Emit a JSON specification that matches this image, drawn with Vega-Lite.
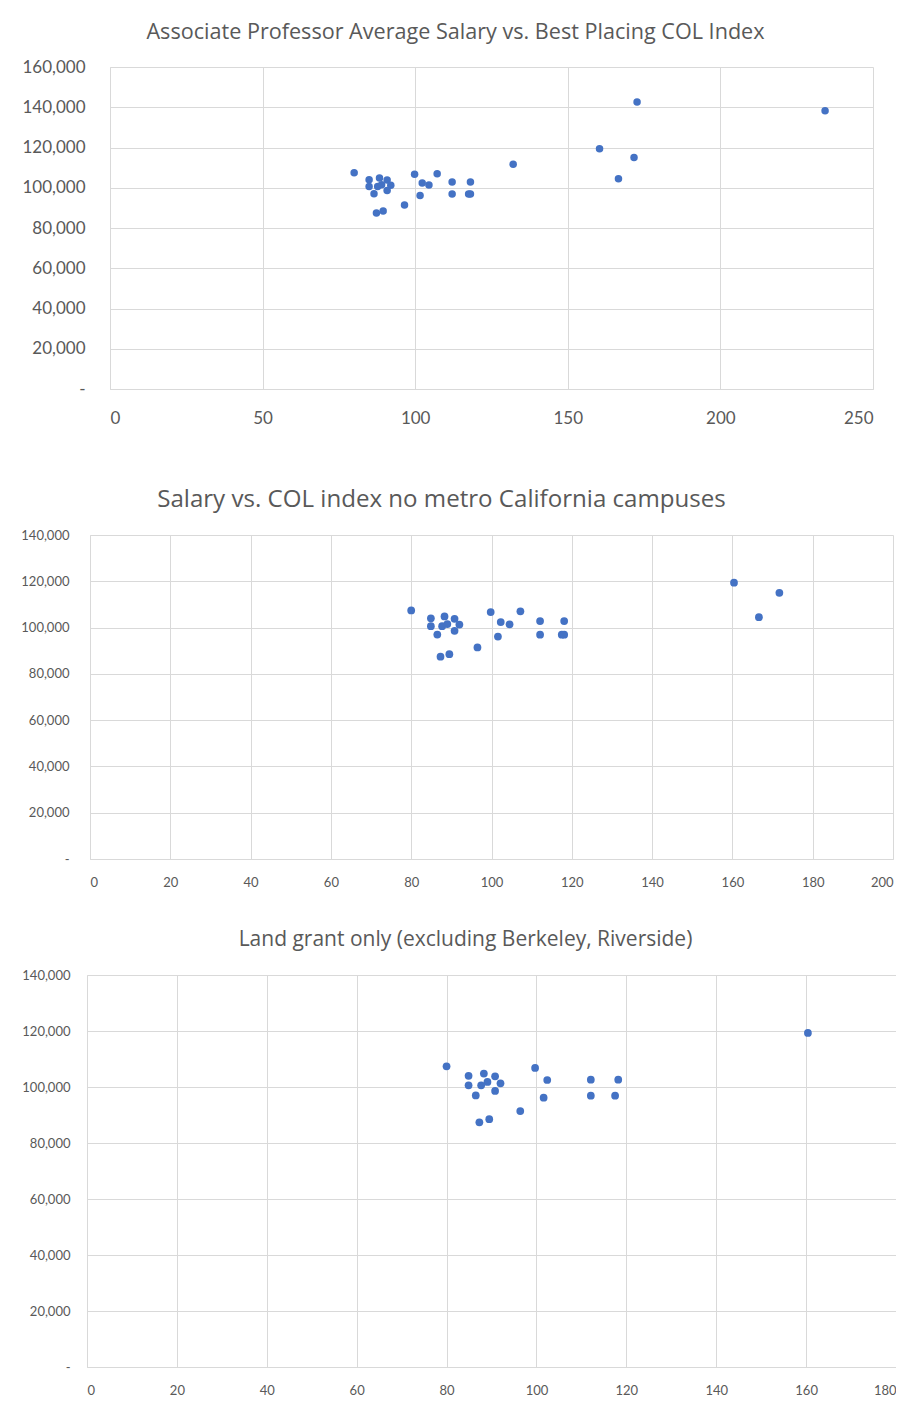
{
  "$schema": "https://vega.github.io/schema/vega-lite/v6.json",
  "background": "white",
  "padding": {"left": 0, "top": 22, "right": 0, "bottom": 0},
  "config": {
    "view": {"stroke": null},
    "font": "Lato",
    "axis": {
      "gridColor": "#d9d9d9",
      "domainColor": "#d9d9d9",
      "ticks": false,
      "labelColor": "#595959",
      "labelFont": "Lato",
      "title": null
    },
    "title": {"font": "Open Sans", "fontWeight": "normal", "color": "#595959", "anchor": "middle"}
  },
  "datasets": {
    "all": [
      {"col": 80.0, "salary": 107400}, {"col": 84.9, "salary": 104000}, {"col": 84.9, "salary": 100600},
      {"col": 88.3, "salary": 104800}, {"col": 90.8, "salary": 103800}, {"col": 87.7, "salary": 100600},
      {"col": 89.0, "salary": 101500}, {"col": 92.0, "salary": 101300}, {"col": 90.8, "salary": 98600},
      {"col": 86.5, "salary": 97000}, {"col": 87.3, "salary": 87400}, {"col": 89.5, "salary": 88500},
      {"col": 96.5, "salary": 91400}, {"col": 99.8, "salary": 106700}, {"col": 102.3, "salary": 102400},
      {"col": 104.5, "salary": 101400}, {"col": 101.6, "salary": 96100}, {"col": 107.2, "salary": 107000},
      {"col": 112.1, "salary": 102800}, {"col": 112.1, "salary": 96900}, {"col": 118.1, "salary": 102800},
      {"col": 117.5, "salary": 96900}, {"col": 118.1, "salary": 96900}, {"col": 132.1, "salary": 111700},
      {"col": 160.4, "salary": 119400}, {"col": 171.7, "salary": 115000}, {"col": 166.6, "salary": 104500},
      {"col": 172.7, "salary": 142600}, {"col": 234.3, "salary": 138300}
    ],
    "nometro": [
      {"col": 80.0, "salary": 107400}, {"col": 84.9, "salary": 104000}, {"col": 84.9, "salary": 100600},
      {"col": 88.3, "salary": 104800}, {"col": 90.8, "salary": 103800}, {"col": 87.7, "salary": 100600},
      {"col": 89.0, "salary": 101500}, {"col": 92.0, "salary": 101300}, {"col": 90.8, "salary": 98600},
      {"col": 86.5, "salary": 97000}, {"col": 87.3, "salary": 87400}, {"col": 89.5, "salary": 88500},
      {"col": 96.5, "salary": 91400}, {"col": 99.8, "salary": 106700}, {"col": 102.3, "salary": 102400},
      {"col": 104.5, "salary": 101400}, {"col": 101.6, "salary": 96100}, {"col": 107.2, "salary": 107000},
      {"col": 112.1, "salary": 102800}, {"col": 112.1, "salary": 96900}, {"col": 118.1, "salary": 102800},
      {"col": 117.5, "salary": 96900}, {"col": 118.1, "salary": 96900},
      {"col": 160.4, "salary": 119400}, {"col": 171.7, "salary": 115000}, {"col": 166.6, "salary": 104500}
    ],
    "landgrant": [
      {"col": 80.0, "salary": 107400}, {"col": 84.9, "salary": 104000}, {"col": 84.9, "salary": 100600},
      {"col": 88.3, "salary": 104800}, {"col": 90.8, "salary": 103800}, {"col": 87.7, "salary": 100600},
      {"col": 89.1, "salary": 101800}, {"col": 92.0, "salary": 101300}, {"col": 90.8, "salary": 98600},
      {"col": 86.5, "salary": 97000}, {"col": 87.3, "salary": 87400}, {"col": 89.5, "salary": 88500},
      {"col": 96.4, "salary": 91400}, {"col": 99.7, "salary": 106800}, {"col": 102.4, "salary": 102500},
      {"col": 101.6, "salary": 96200}, {"col": 112.1, "salary": 102600}, {"col": 112.1, "salary": 96900},
      {"col": 118.2, "salary": 102600}, {"col": 117.5, "salary": 96900},
      {"col": 160.4, "salary": 119300}
    ]
  },
  "spacing": 40,
  "center": true,
  "vconcat": [
    {
      "title": {"text": "Associate Professor Average Salary vs. Best Placing COL Index", "fontSize": 21.6, "offset": 14, "dx": -36},
      "width": 763,
      "height": 322,
      "data": {"name": "all"},
      "mark": {"type": "circle", "size": 56, "color": "#4472C4", "opacity": 1},
      "encoding": {
        "x": {"field": "col", "type": "quantitative", "scale": {"domain": [0, 250], "nice": false},
              "axis": {"values": [0, 50, 100, 150, 200, 250], "labelFontSize": 17, "labelPadding": 21,
                       "title": "x", "titleOpacity": 0, "titleFontSize": 10, "titlePadding": 11}},
        "y": {"field": "salary", "type": "quantitative", "scale": {"domain": [0, 160000], "nice": false},
              "axis": {"values": [0, 20000, 40000, 60000, 80000, 100000, 120000, 140000, 160000], "labelFontSize": 17, "labelPadding": 25,
                       "minExtent": 86, "maxExtent": 86,
                       "labelExpr": "datum.value == 0 ? '-' : format(datum.value, ',')"}}
      }
    },
    {
      "title": {"text": "Salary vs. COL index no metro California campuses", "fontSize": 24.1, "offset": 17, "dx": -50},
      "width": 803,
      "height": 324,
      "data": {"name": "nometro"},
      "mark": {"type": "circle", "size": 60, "color": "#4472C4", "opacity": 1},
      "encoding": {
        "x": {"field": "col", "type": "quantitative", "scale": {"domain": [0, 200], "nice": false},
              "axis": {"values": [0, 20, 40, 60, 80, 100, 120, 140, 160, 180, 200], "labelFontSize": 13, "labelPadding": 17}},
        "y": {"field": "salary", "type": "quantitative", "scale": {"domain": [0, 140000], "nice": false},
              "axis": {"values": [0, 20000, 40000, 60000, 80000, 100000, 120000, 140000], "labelFontSize": 13, "labelPadding": 21,
                       "minExtent": 80, "maxExtent": 80,
                       "labelExpr": "datum.value == 0 ? '-' : format(datum.value, ',')"}}
      }
    },
    {
      "title": {"text": "Land grant only (excluding Berkeley, Riverside)", "fontSize": 21, "offset": 19, "dx": -26},
      "width": 809,
      "height": 392,
      "data": {"name": "landgrant"},
      "mark": {"type": "circle", "size": 60, "color": "#4472C4", "opacity": 1},
      "encoding": {
        "x": {"field": "col", "type": "quantitative", "scale": {"domain": [0, 180], "nice": false},
              "axis": {"values": [0, 20, 40, 60, 80, 100, 120, 140, 160, 180], "labelFontSize": 13, "labelPadding": 17}},
        "y": {"field": "salary", "type": "quantitative", "scale": {"domain": [0, 140000], "nice": false},
              "axis": {"values": [0, 20000, 40000, 60000, 80000, 100000, 120000, 140000], "labelFontSize": 13, "labelPadding": 17,
                       "minExtent": 86.5, "maxExtent": 86.5,
                       "labelExpr": "datum.value == 0 ? '-' : format(datum.value, ',')"}}
      }
    }
  ]
}
